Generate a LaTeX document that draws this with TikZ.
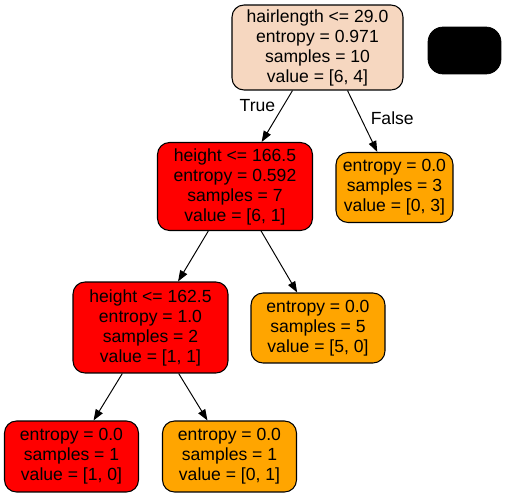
\documentclass[tikz,border=0pt]{standalone}
\usepackage{fontspec}
\setmainfont{Liberation Sans}
\usepackage{xcolor}
\usetikzlibrary{arrows.meta}
\definecolor{peach}{RGB}{246,215,192}
\definecolor{gvorange}{RGB}{255,165,0}

\begin{document}
\begin{tikzpicture}[x=0.02cm,y=-0.02cm,font=\fontsize{10}{11.4}\selectfont,
 treenode/.style={draw,line width=0.6pt,rounded corners=0.24cm,align=center,inner sep=0pt},
 split/.style={treenode,minimum width=3.1cm,minimum height=1.76cm},
 leaf/.style={treenode,minimum width=2.68cm,minimum height=1.4cm},
 edge/.style={line width=0.55pt,-{Triangle[length=2.2mm,width=1.6mm]}}]
\useasboundingbox (0,0) rectangle (507,497);
\node[split,fill=peach,minimum width=3.42cm,minimum height=1.7cm] (root) at (317.5,47.5) {hairlength <= 29.0\\entropy = 0.971\\samples = 10\\value = [6, 4]};
\node[draw,fill=black,rounded corners=0.3cm,minimum width=1.46cm,minimum height=0.94cm] (legend) at (464.5,50.5) {};
\node[split,fill=red] (hgt1) at (235,186.5) {height <= 166.5\\entropy = 0.592\\samples = 7\\value = [6, 1]};
\node[leaf,fill=gvorange,minimum width=2.34cm] (leafR) at (394.5,187.5) {entropy = 0.0\\samples = 3\\value = [0, 3]};
\node[split,fill=red,minimum height=1.82cm] (hgt2) at (150.5,327.5) {height <= 162.5\\entropy = 1.0\\samples = 2\\value = [1, 1]};
\node[leaf,fill=gvorange] (leafM) at (318,328) {entropy = 0.0\\samples = 5\\value = [5, 0]};
\node[leaf,fill=red,minimum height=1.42cm] (leafA) at (71.5,456.5) {entropy = 0.0\\samples = 1\\value = [1, 0]};
\node[leaf,fill=gvorange,minimum height=1.42cm] (leafB) at (229.5,456.5) {entropy = 0.0\\samples = 1\\value = [0, 1]};
\draw[edge] ([xshift=-0.5cm]root.south)--node[pos=0.3,left=1pt]{True}(hgt1);
\draw[edge] ([xshift=0.6cm]root.south)--node[pos=0.45,right=2pt]{False}(leafR);
\draw[edge] (hgt1)--(hgt2);
\draw[edge] (hgt1)--(leafM);
\draw[edge] (hgt2)--(leafA);
\draw[edge] (hgt2)--(leafB);
\end{tikzpicture}
\end{document}
